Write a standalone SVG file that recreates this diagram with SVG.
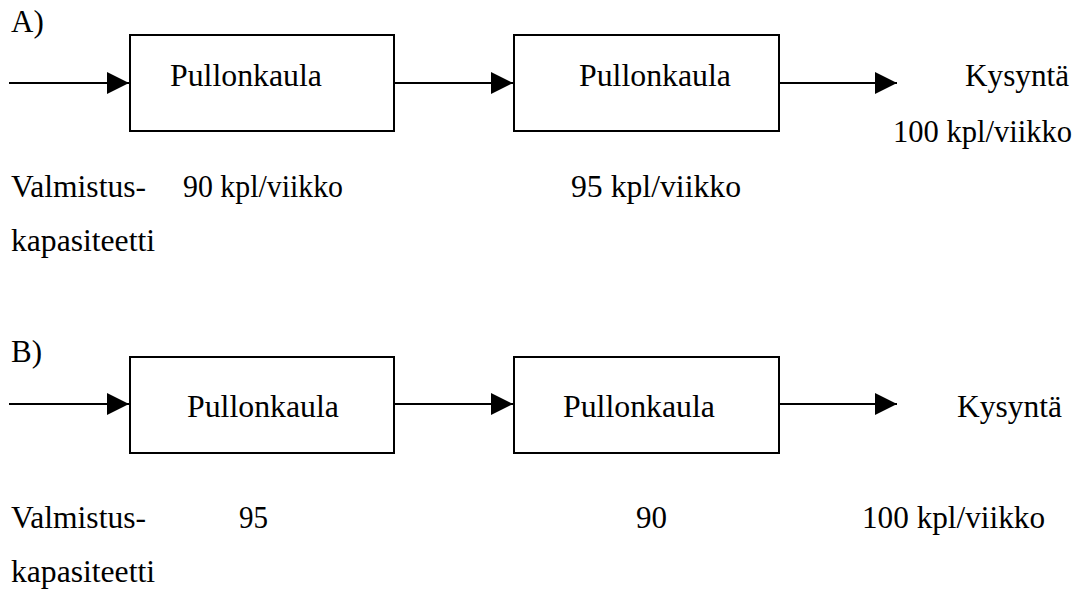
<svg xmlns="http://www.w3.org/2000/svg" width="1089" height="589" viewBox="0 0 1089 589">
<style>
text{font-family:"Liberation Serif","Times New Roman",Times,serif;font-size:31px;fill:#000}
.box{fill:#fff;stroke:#000;stroke-width:2}
.con{stroke:#000;stroke-width:1.8;fill:none}
</style>
<defs>
<marker id="ah" markerUnits="userSpaceOnUse" markerWidth="22" markerHeight="22" viewBox="0 0 20 20" refX="20" refY="10" orient="auto">
<path d="M0,0 L20,10 L0,20 Z" fill="#000"/>
</marker>
</defs>
<rect width="1089" height="589" fill="#fff"/>
<text x="11" y="32">A)</text>
<text x="11" y="362">B)</text>
<g id="connectors">
<line class="con" x1="9" y1="83" x2="129" y2="83" marker-end="url(#ah)"/>
<line class="con" x1="394" y1="83" x2="513" y2="83" marker-end="url(#ah)"/>
<line class="con" x1="779" y1="83" x2="897" y2="83" marker-end="url(#ah)"/>
<line class="con" x1="9" y1="404" x2="129" y2="404" marker-end="url(#ah)"/>
<line class="con" x1="394" y1="404" x2="513" y2="404" marker-end="url(#ah)"/>
<line class="con" x1="779" y1="404" x2="897" y2="404" marker-end="url(#ah)"/>
</g>
<g id="a1"><rect class="box" x="130" y="35" width="264" height="96"/><text x="170" y="86" textLength="152" lengthAdjust="spacingAndGlyphs">Pullonkaula</text></g>
<g id="a2"><rect class="box" x="514" y="35" width="265" height="96"/><text x="579" y="86" textLength="152" lengthAdjust="spacingAndGlyphs">Pullonkaula</text></g>
<g id="a-demand"><text x="965" y="86" textLength="104" lengthAdjust="spacingAndGlyphs">Kysyntä</text><text x="893" y="142" textLength="179" lengthAdjust="spacingAndGlyphs">100 kpl/viikko</text></g>
<g id="a-labels">
<text x="11" y="197" textLength="135" lengthAdjust="spacingAndGlyphs">Valmistus-</text>
<text x="11" y="251" textLength="144" lengthAdjust="spacingAndGlyphs">kapasiteetti</text>
<text x="183" y="197" textLength="160" lengthAdjust="spacingAndGlyphs">90 kpl/viikko</text>
<text x="571" y="197" textLength="170" lengthAdjust="spacingAndGlyphs">95 kpl/viikko</text>
</g>
<g id="b1"><rect class="box" x="130" y="357" width="264" height="96"/><text x="187" y="417" textLength="152" lengthAdjust="spacingAndGlyphs">Pullonkaula</text></g>
<g id="b2"><rect class="box" x="514" y="357" width="265" height="96"/><text x="563" y="417" textLength="152" lengthAdjust="spacingAndGlyphs">Pullonkaula</text></g>
<g id="b-demand"><text x="957" y="417" textLength="105" lengthAdjust="spacingAndGlyphs">Kysyntä</text><text x="862" y="528" textLength="183" lengthAdjust="spacingAndGlyphs">100 kpl/viikko</text></g>
<g id="b-labels">
<text x="11" y="528" textLength="135" lengthAdjust="spacingAndGlyphs">Valmistus-</text>
<text x="11" y="582" textLength="144" lengthAdjust="spacingAndGlyphs">kapasiteetti</text>
<text x="239" y="528" textLength="29" lengthAdjust="spacingAndGlyphs">95</text>
<text x="636" y="528" textLength="31" lengthAdjust="spacingAndGlyphs">90</text>
</g>
</svg>
